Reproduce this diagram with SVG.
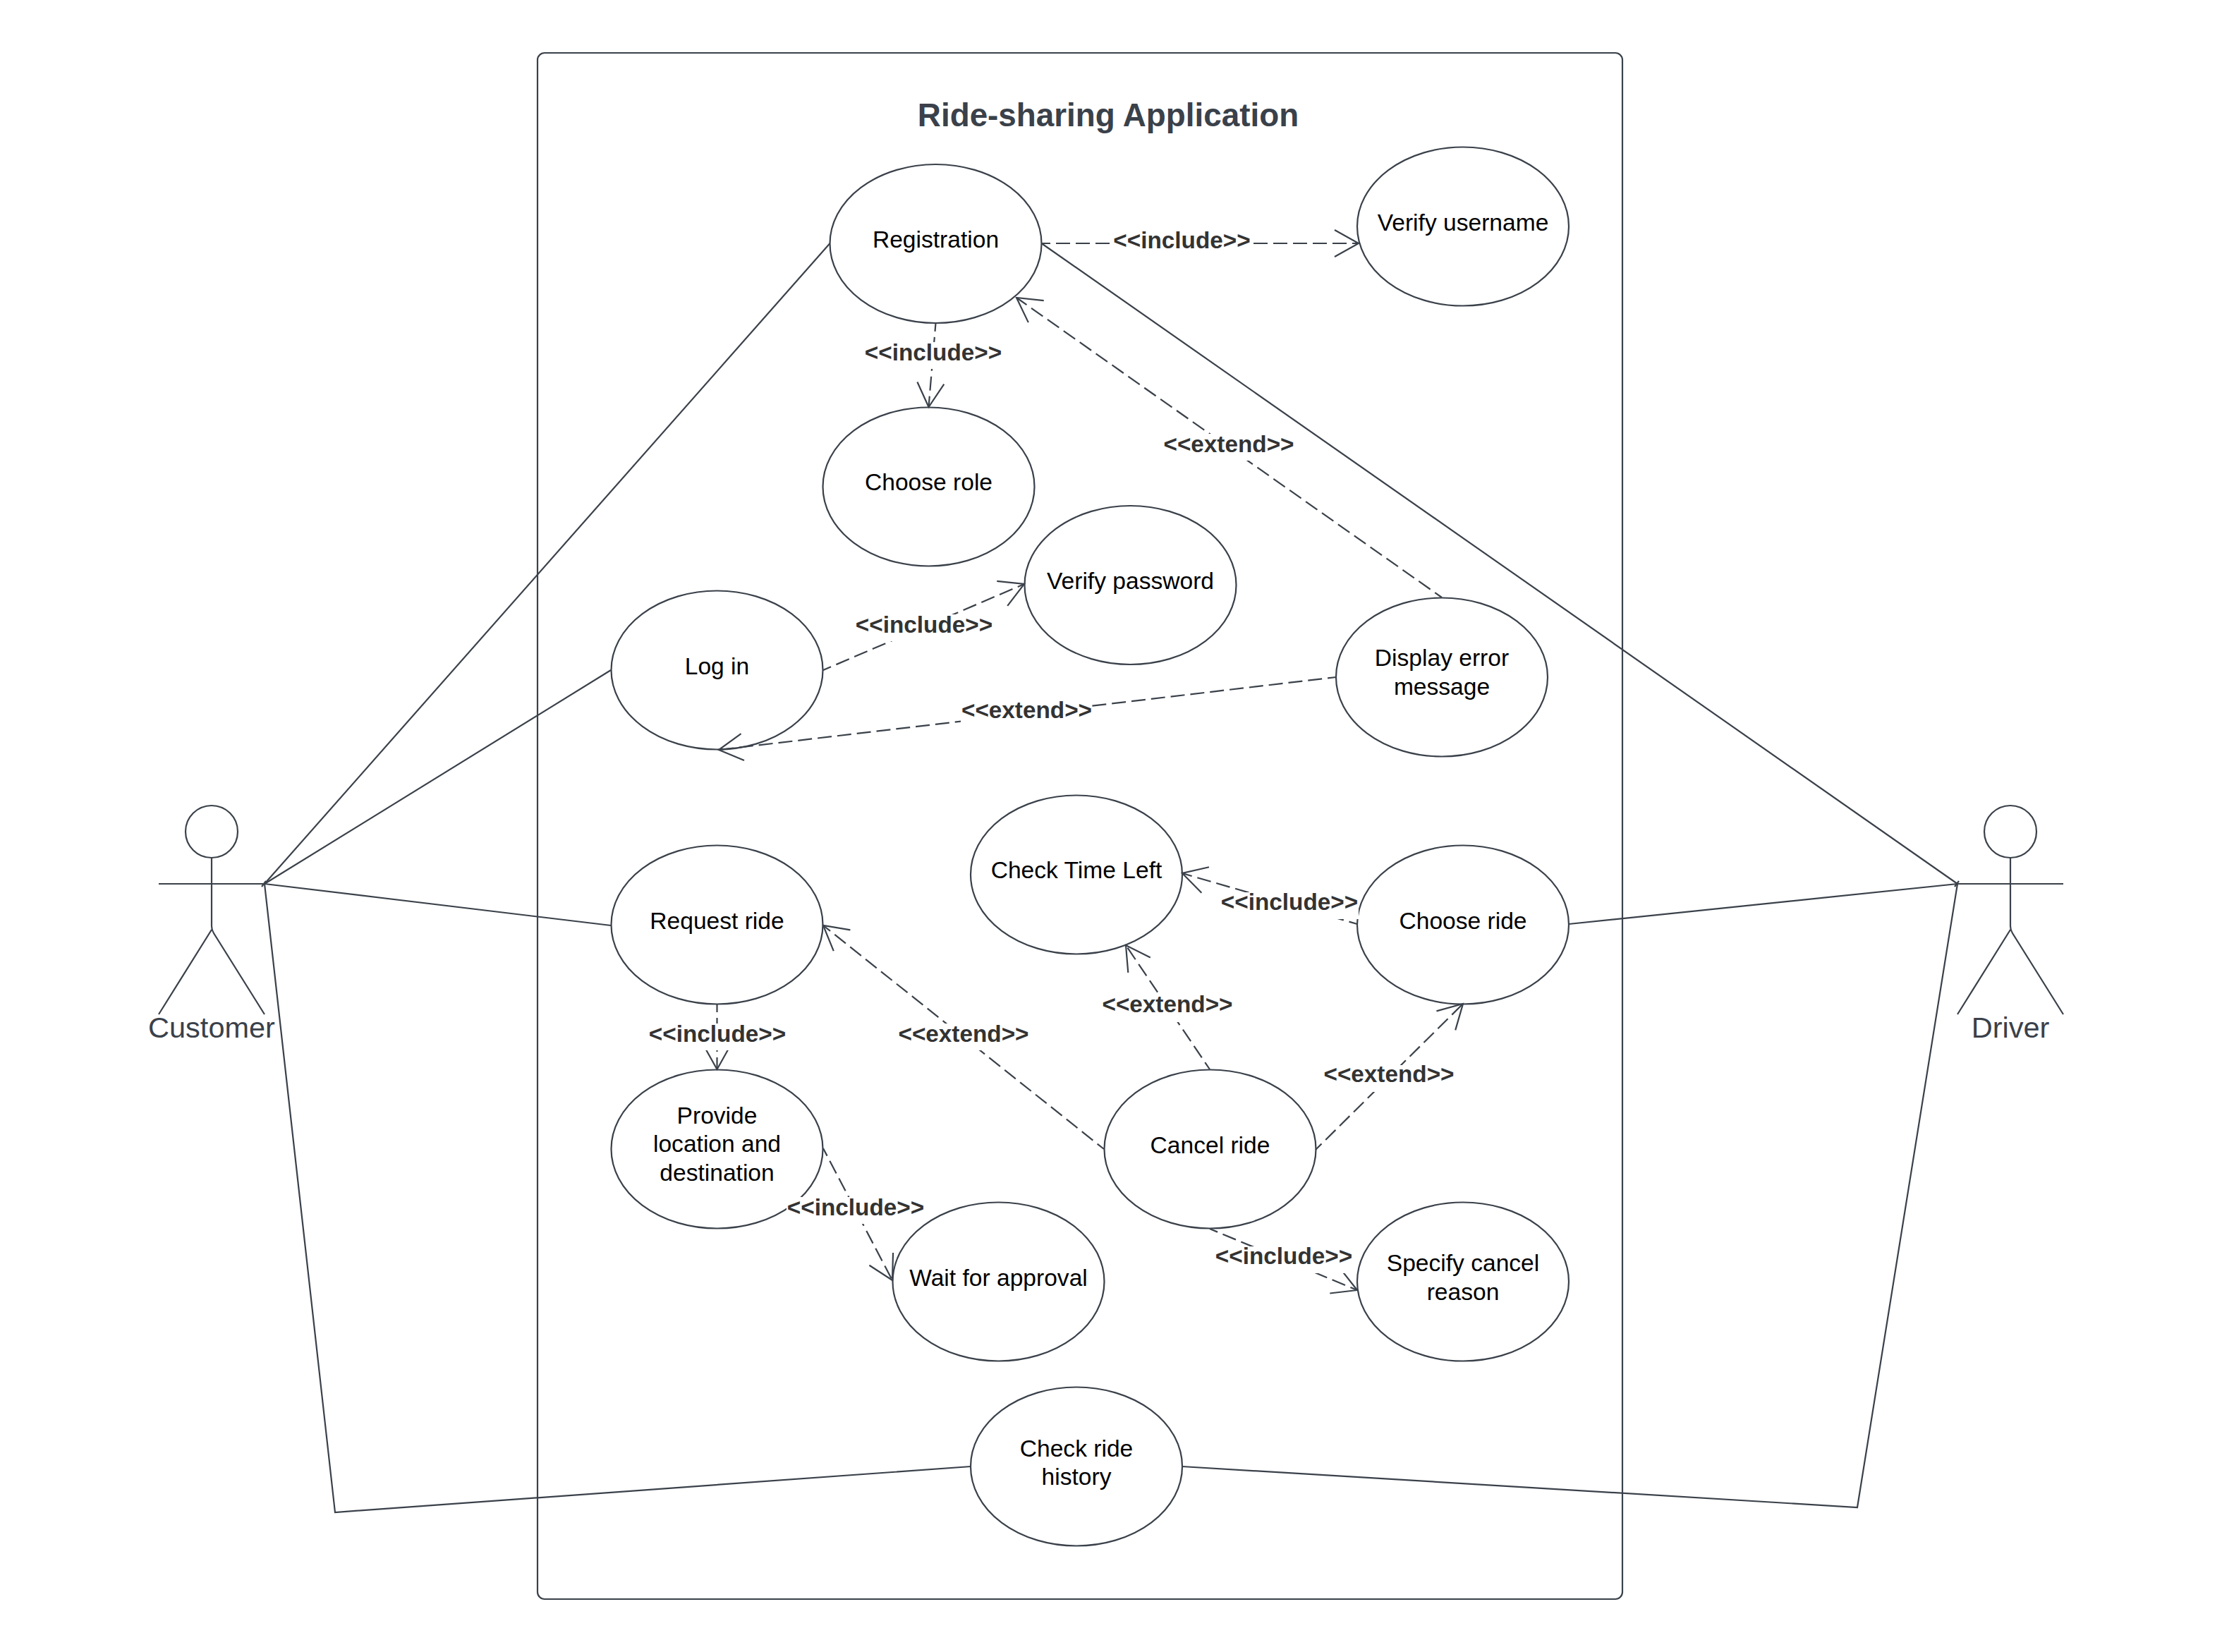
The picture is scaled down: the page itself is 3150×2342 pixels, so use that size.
<svg xmlns="http://www.w3.org/2000/svg" width="3150" height="2342" viewBox="0 0 3150 2342">
<style>
text{font-family:"Liberation Sans",Arial,sans-serif;text-anchor:middle}
.b{fill:none;stroke:#3a414a;stroke-width:2.2}
.uc{fill:#fff;stroke:#3a414a;stroke-width:2.2}
.t{font-size:33.6px;fill:#000}
.a{font-size:41.5px;fill:#3a414a}
.s{fill:none;stroke:#3a414a;stroke-width:2.2}
.d{fill:none;stroke:#3a414a;stroke-width:2.2;stroke-dasharray:20 8;stroke-dashoffset:8;marker-end:url(#open)}
.l{font-size:33.3px;font-weight:700;fill:#333}
.lb{fill:#fff}
</style>
<defs>
<marker id="open" markerUnits="userSpaceOnUse" markerWidth="44" markerHeight="48" refX="36" refY="22" orient="auto" overflow="visible">
<path d="M2 3L36 22L2 41" fill="none" stroke="#3a414a" stroke-width="2.2"/>
</marker>
</defs>
<rect width="3150" height="2342" fill="#fff"/>
<g id="boundary">
<rect x="762" y="75" width="1538" height="2192" rx="10" ry="10" class="b"/>
<text x="1571" y="179" font-size="45.8" font-weight="700" fill="#3a414a">Ride-sharing Application</text>
</g>
<g id="connectors-lines">
<path class="s" d="M375 1253L1176.5 345"/>
<path class="s" d="M375 1253L866 950"/>
<path class="s" d="M375 1253L866 1312"/>
<path class="s" d="M375 1253L475 2144L1376 2079"/>
<path class="s" d="M1476.5 345L2775 1253"/>
<path class="s" d="M2224 1310L2775 1253"/>
<path class="s" d="M1676 2079L2633 2137L2775 1253"/>
<path class="s" d="M371 1257L377 1249M2771 1257L2777 1249"/>
</g>
<g id="customer">
<ellipse cx="300" cy="1179" rx="37" ry="37" class="b"/>
<path class="b" d="M225 1253H375M300 1216V1313Q300 1318 303 1323L375 1438M300 1318L225 1438"/>
<text x="300" y="1471" class="a">Customer</text>
</g>
<g id="driver">
<ellipse cx="2850" cy="1179" rx="37" ry="37" class="b"/>
<path class="b" d="M2775 1253H2925M2850 1216V1313Q2850 1318 2853 1323L2925 1438M2850 1318L2775 1438"/>
<text x="2850" y="1471" class="a">Driver</text>
</g>
<g id="registration"><ellipse cx="1326.5" cy="345.5" rx="150" ry="112.5" class="uc"/><text x="1326.5" y="351" class="t">Registration</text></g>
<g id="verify-username"><ellipse cx="2074" cy="321" rx="150" ry="112.5" class="uc"/><text x="2074" y="327" class="t">Verify username</text></g>
<g id="choose-role"><ellipse cx="1316.5" cy="690" rx="150" ry="112.5" class="uc"/><text x="1316.5" y="695" class="t">Choose role</text></g>
<g id="verify-password"><ellipse cx="1602.5" cy="829.5" rx="150" ry="112.5" class="uc"/><text x="1602.5" y="835" class="t">Verify password</text></g>
<g id="log-in"><ellipse cx="1016.5" cy="950" rx="150" ry="112.5" class="uc"/><text x="1016.5" y="956" class="t">Log in</text></g>
<g id="display-error"><ellipse cx="2044" cy="960" rx="150" ry="112.5" class="uc"/><text x="2044" y="944" class="t">Display error</text><text x="2044" y="985" class="t">message</text></g>
<g id="check-time-left"><ellipse cx="1526" cy="1240" rx="150" ry="112.5" class="uc"/><text x="1526" y="1245" class="t">Check Time Left</text></g>
<g id="choose-ride"><ellipse cx="2074" cy="1311" rx="150" ry="112.5" class="uc"/><text x="2074" y="1317" class="t">Choose ride</text></g>
<g id="request-ride"><ellipse cx="1016.5" cy="1311" rx="150" ry="112.5" class="uc"/><text x="1016.5" y="1317" class="t">Request ride</text></g>
<g id="provide-location"><ellipse cx="1016.5" cy="1629" rx="150" ry="112.5" class="uc"/><text x="1016.5" y="1593" class="t">Provide</text><text x="1016.5" y="1633" class="t">location and</text><text x="1016.5" y="1674" class="t">destination</text></g>
<g id="cancel-ride"><ellipse cx="1715.5" cy="1629" rx="150" ry="112.5" class="uc"/><text x="1715.5" y="1635" class="t">Cancel ride</text></g>
<g id="wait-for-approval"><ellipse cx="1415.5" cy="1817" rx="150" ry="112.5" class="uc"/><text x="1415.5" y="1823" class="t">Wait for approval</text></g>
<g id="specify-cancel"><ellipse cx="2074" cy="1817" rx="150" ry="112.5" class="uc"/><text x="2074" y="1802" class="t">Specify cancel</text><text x="2074" y="1843" class="t">reason</text></g>
<g id="check-ride-history"><ellipse cx="1526" cy="2079" rx="150" ry="112.5" class="uc"/><text x="1526" y="2065" class="t">Check ride</text><text x="1526" y="2105" class="t">history</text></g>
<g id="connectors">
<path class="d" d="M1477 345L1926 345"/>
<path class="d" d="M1326.5 458L1316.5 577"/>
<path class="d" d="M2044 847L1441 422"/>
<path class="d" d="M1167 950L1452 828"/>
<path class="d" d="M1894 960L1019 1063"/>
<path class="d" d="M1924 1310L1676 1238"/>
<path class="d" d="M1715 1516L1596 1340"/>
<path class="d" d="M1865 1630L2074 1423"/>
<path class="d" d="M1565 1629L1167 1312"/>
<path class="d" d="M1016.5 1423L1016.5 1516"/>
<path class="d" d="M1167 1628L1265 1815"/>
<path class="d" d="M1715 1742L1924 1829"/>
<rect class="lb" x="1578" y="326" width="195" height="38"/><text class="l" x="1675.5" y="352">&lt;&lt;include&gt;&gt;</text>
<rect class="lb" x="1224" y="485" width="196" height="38"/><text class="l" x="1323" y="511">&lt;&lt;include&gt;&gt;</text>
<rect class="lb" x="1648" y="615" width="186" height="38"/><text class="l" x="1742" y="641">&lt;&lt;extend&gt;&gt;</text>
<rect class="lb" x="1212" y="871" width="196" height="38"/><text class="l" x="1310" y="897">&lt;&lt;include&gt;&gt;</text>
<rect class="lb" x="1362" y="993" width="186" height="38"/><text class="l" x="1455.5" y="1018">&lt;&lt;extend&gt;&gt;</text>
<rect class="lb" x="1730" y="1265" width="196" height="38"/><text class="l" x="1828" y="1290">&lt;&lt;include&gt;&gt;</text>
<rect class="lb" x="1562" y="1411" width="186" height="38"/><text class="l" x="1655" y="1435">&lt;&lt;extend&gt;&gt;</text>
<rect class="lb" x="1876" y="1510" width="186" height="38"/><text class="l" x="1969" y="1534">&lt;&lt;extend&gt;&gt;</text>
<rect class="lb" x="1273" y="1451" width="186" height="38"/><text class="l" x="1366" y="1477">&lt;&lt;extend&gt;&gt;</text>
<rect class="lb" x="919" y="1451" width="196" height="38"/><text class="l" x="1017" y="1477">&lt;&lt;include&gt;&gt;</text>
<rect class="lb" x="1115" y="1697" width="196" height="38"/><text class="l" x="1213" y="1723">&lt;&lt;include&gt;&gt;</text>
<rect class="lb" x="1721" y="1767" width="196" height="38"/><text class="l" x="1820" y="1792">&lt;&lt;include&gt;&gt;</text>
</g>
</svg>
